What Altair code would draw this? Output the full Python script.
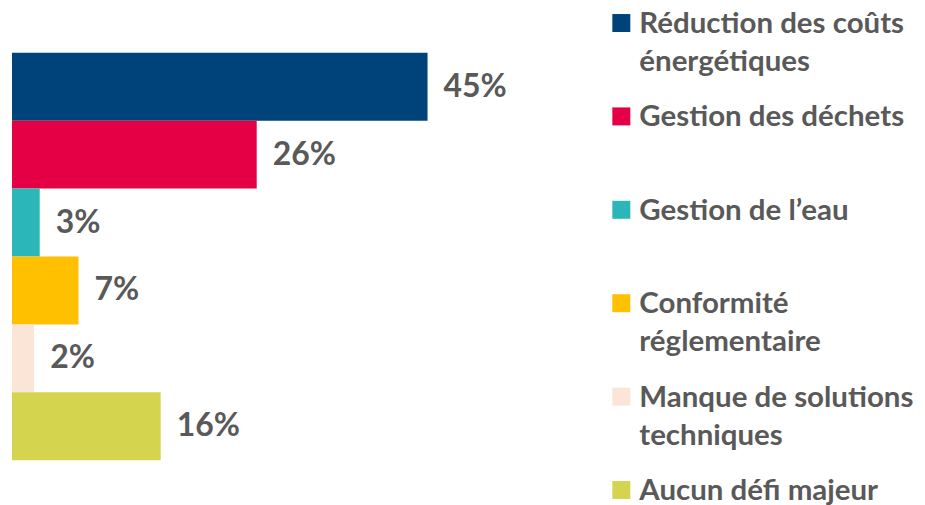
import altair as alt
import pandas as pd

categories = [
    "Réduction des coûts énergétiques",
    "Gestion des déchets",
    "Gestion de l’eau",
    "Conformité réglementaire",
    "Manque de solutions techniques",
    "Aucun défi majeur",
]
legend_lines = [
    "Réduction des coûts\nénergétiques",
    "Gestion des déchets",
    "Gestion de l’eau",
    "Conformité\nréglementaire",
    "Manque de solutions\ntechniques",
    "Aucun défi majeur",
]
bar_values = [45, 26.5, 3.0, 7.2, 2.4, 16.1]
labels = ["45%", "26%", "3%", "7%", "2%", "16%"]
colors = ["#00437A", "#E50046", "#2BB6B7", "#FFC000", "#FBE5D6", "#D5D44F"]

df = pd.DataFrame({"cat": categories, "legend": legend_lines, "value": bar_values, "label": labels})

TEXT_COLOR = "#595959"
color = alt.Color("cat:N", scale=alt.Scale(domain=categories, range=colors), legend=None)
y = alt.Y("cat:N", sort=categories, axis=None,
          scale=alt.Scale(paddingInner=0, paddingOuter=0.654))
x = alt.X("value:Q", axis=None, scale=alt.Scale(domain=[0, 45], nice=False, zero=True))

bars = alt.Chart(df).mark_bar().encode(x=x, y=y, color=color)
bar_text = alt.Chart(df).mark_text(
    align="left", baseline="middle", dx=16, font="Lato", fontWeight="bold",
    fontSize=32, color=TEXT_COLOR
).encode(x=x, y=y, text="label:N")
left = alt.layer(bars, bar_text).properties(width=416, height=497)

ly = alt.Y("cat:N", sort=categories, axis=None, scale=alt.Scale(type="point", padding=0.158))
markers = alt.Chart(df).mark_point(shape="square", filled=True, size=324, opacity=1).encode(
    x=alt.value(9), y=ly, color=color
)
legend_text = alt.Chart(df).mark_text(
    align="left", baseline="alphabetic", dy=10, lineBreak="\n", lineHeight=38,
    font="Lato", fontWeight="bold", fontSize=29.5, color=TEXT_COLOR
).encode(x=alt.value(27), y=ly, text="legend:N")
right = alt.layer(markers, legend_text).properties(width=305, height=497)

chart = alt.hconcat(left, right, spacing=185, bounds="flush").properties(
    padding={"left": 4, "top": 0, "right": 0, "bottom": 0}
).configure_view(stroke=None)

chart.save("out.html", embed_options={"renderer": "svg", "actions": False})
